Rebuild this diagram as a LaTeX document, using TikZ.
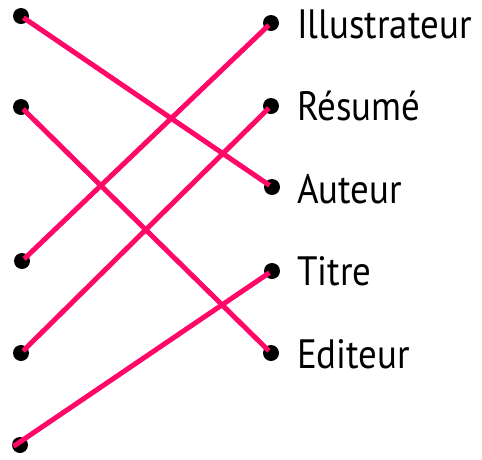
\documentclass[tikz,border=0pt]{standalone}
\usepackage{fontspec}
\setmainfont{PT Sans}
\definecolor{linkpink}{RGB}{255,8,104}
\begin{document}
\begin{tikzpicture}[x=1pt,y=-1pt,
  dotnode/.style={circle,fill=black,inner sep=0pt,minimum size=16pt},
  link/.style={draw=linkpink,line width=5pt,shorten <=3pt,shorten >=3pt},
  lbl/.style={anchor=base west,inner sep=0pt,font=\fontsize{41}{48}\selectfont}]
\useasboundingbox (0,0) rectangle (482,459);
\node[dotnode] (l1) at (21,16) {};
\node[dotnode] (l2) at (21,107) {};
\node[dotnode] (l3) at (22,261) {};
\node[dotnode] (l4) at (21,353) {};
\node[dotnode] (l5) at (20,445) {};
\node[dotnode] (r1) at (271,23) {};
\node[dotnode] (r2) at (271,106) {};
\node[dotnode] (r3) at (272,187) {};
\node[dotnode] (r4) at (272,271) {};
\node[dotnode] (r5) at (271,353) {};
\draw[link] (l1.center) -- (r3.center);
\draw[link] (l2.center) -- (r5.center);
\draw[link] (l3.center) -- (r1.center);
\draw[link] (l4.center) -- (r2.center);
\draw[link] ([xshift=-9pt,yshift=-3pt]l5.center) -- (r4.center);
\node[lbl] (t1) at (297,38) {\scalebox{0.9}[1]{Illustrateur}};
\node[lbl] (t2) at (297,120) {\scalebox{0.9}[1]{Résumé}};
\node[lbl] (t3) at (297,203) {\scalebox{0.9}[1]{Auteur}};
\node[lbl] (t4) at (297,285) {\scalebox{0.9}[1]{Titre}};
\node[lbl] (t5) at (297,368) {\scalebox{0.9}[1]{Editeur}};
\end{tikzpicture}
\end{document}
